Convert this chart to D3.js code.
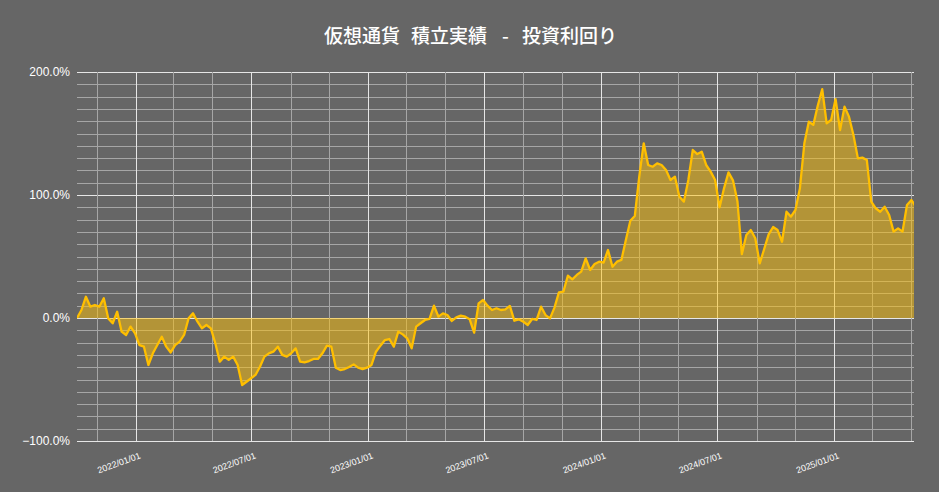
<!DOCTYPE html>
<html><head><meta charset="utf-8">
<script src="https://cdn.jsdelivr.net/npm/d3@7"></script>
<style>html,body{margin:0;padding:0;background:#666666;} svg{display:block}</style>
</head><body><svg id="c" width="939" height="492"></svg>
<script>
const titleParts = ["仮想通貨", "積立実績", "-", "投資利回り"];
const startDate = "2021-10-01";
const endDate = "2025-05-06";
const yTickValues = [-100, 0, 100, 200];
const xLabelDates = ["2022-01-01", "2022-07-01", "2023-01-01", "2023-07-01", "2024-01-01", "2024-07-01", "2025-01-01"];
// weekly return (%), first week starting at startDate
const returns = [
  0, 6.5, 17.3, 9.2, 10.6, 9.2, 16, -0.3, -4.3, 5.1,
  -11.1, -13.8, -7, -12.5, -22, -23.3, -38.2, -28.7, -22, -15.2,
  -23.3, -28, -22, -19.2, -13.8, -0.3, 3.8, -3, -8.4, -5.7,
  -8.4, -20.6, -35.5, -31.4, -34.1, -31.4, -38.2, -54.5, -51.8, -49,
  -46.3, -39.6, -31.4, -28.7, -27.4, -23.3, -30, -31.4, -28.7, -24.7,
  -35.5, -36, -35, -33.3, -33.3, -28.7, -22.5, -23.3, -40.4, -42.3,
  -41.5, -39.8, -37.7, -40.4, -41.5, -40.4, -38.2, -27.4, -22.5, -17.9,
  -17.1, -23.3, -11.1, -13.3, -16.5, -24.7, -7, -4.3, -1.6, -0.8,
  10, 1.1, 3.8, 2.4, -2.4, 0.5, 1.9, 1.1, -1.1, -12,
  11.9, 14.6, 10, 6.5, 7.9, 6.5, 7, 9.8, -2.2, -1.1,
  -3, -5.7, -0.8, -1.6, 9.2, 2.4, -0.3, 8.4, 20.9, 21.4,
  34.4, 31.4, 35, 37.7, 48.5, 39, 43.9, 45.8, 45, 55.3,
  41.7, 45.8, 47.2, 63.4, 79.1, 82.9, 114.9, 142, 124.4, 123,
  125.7, 124.4, 120.3, 112.2, 114.9, 98.6, 94.6, 112.2, 136.6, 133.3,
  135.2, 124.4, 119, 112.2, 90, 105.4, 118.4, 111.9, 95, 52,
  67.5, 71.5, 64.8, 44.4, 56.1, 68, 74, 71.5, 62, 86.4,
  82.4, 87.8, 105.4, 142, 159.6, 157, 172.6, 186, 158.3, 161,
  178, 152.8, 171.8, 163.7, 148.8, 129.8, 130.4, 128.5, 94.6, 89.2,
  86.4, 90.5, 83.7, 70.2, 72.9, 70.2, 91.9, 95.9, 90.5
];

const W = 939, H = 492;
const m = {left: 77, right: 25, top: 72, bottom: 51};
const svg = d3.select("#c");
const parse = d3.timeParse("%Y-%m-%d");
const t0 = parse(startDate), t1 = parse(endDate);
const data = returns.map((v, i) => ({date: d3.timeDay.offset(t0, 7 * i), value: v}));

const x = d3.scaleTime().domain([t0, t1]).range([m.left, W - m.right]);
const y = d3.scaleLinear().domain([-100, 200]).range([H - m.bottom, m.top]);

svg.append("rect").attr("width", W).attr("height", H).attr("fill", "#666666");

// grid
const g = svg.append("g");
const minorY = d3.range(-100, 201, 10);
g.selectAll("line.h").data(minorY).join("line")
  .attr("x1", m.left).attr("x2", W - m.right)
  .attr("y1", d => Math.round(y(d)) + 0.5).attr("y2", d => Math.round(y(d)) + 0.5)
  .attr("stroke", d => d % 100 === 0 ? "#e6e6e6" : "#a6a6a6").attr("stroke-width", 1);
const monthLines = d3.timeMonth.every(2).range(t0, t1);
g.selectAll("line.v").data(monthLines).join("line")
  .attr("y1", m.top).attr("y2", H - m.bottom)
  .attr("x1", d => Math.round(x(d)) + 0.5).attr("x2", d => Math.round(x(d)) + 0.5)
  .attr("stroke", d => (d.getMonth() % 6 === 0) ? "#e6e6e6" : "#a6a6a6").attr("stroke-width", 1);

// clip
svg.append("clipPath").attr("id", "clip").append("rect")
  .attr("x", m.left).attr("y", m.top - 5).attr("width", W - m.left - m.right).attr("height", H - m.top - m.bottom + 10);

const area = d3.area().x(d => x(d.date)).y0(y(0)).y1(d => y(d.value));
const line = d3.line().x(d => x(d.date)).y(d => y(d.value));
const pg = svg.append("g").attr("clip-path", "url(#clip)");
pg.append("path").datum(data).attr("d", area).attr("fill", "rgba(255,193,7,0.5)");
pg.append("path").datum(data).attr("d", line).attr("fill", "none")
  .attr("stroke", "#ffbf00").attr("stroke-width", 2.3).attr("stroke-linejoin", "round");

// y axis labels
const fmt = d3.format(".1f");
const yAxis = d3.axisLeft(y).tickValues(yTickValues).tickSize(0).tickPadding(7).tickFormat(d => fmt(d) + "%");
svg.append("g").attr("transform", `translate(${m.left},0)`).call(yAxis)
  .call(s => s.select(".domain").remove())
  .selectAll("text").attr("fill", "#ffffff").style("font-family", "'Liberation Sans', Arial, sans-serif").style("font-size", "12px");

// x axis labels
const xf = d3.timeFormat("%Y/%m/%d");
const xAxis = d3.axisBottom(x).tickValues(xLabelDates.map(parse)).tickSize(0).tickFormat(xf);
const xg = svg.append("g").attr("transform", `translate(0,${H - m.bottom})`).call(xAxis);
xg.select(".domain").remove();
xg.selectAll("text").attr("fill", "#ffffff")
  .style("font-family", "'Liberation Sans', Arial, sans-serif").style("font-size", "9px")
  .attr("text-anchor", "end").attr("dy", null).attr("y", 0)
  .attr("transform", "translate(5,17) rotate(-20)");

// title
const titleX = [324, 411, 502, 522];
svg.append("text").attr("y", 43)
  .attr("fill", "#ffffff").style("font-family", "'Noto Sans CJK JP', sans-serif")
  .style("font-size", "19px").style("font-weight", "500")
  .selectAll("tspan").data(titleParts).join("tspan")
  .attr("x", (d, i) => titleX[i]).text(d => d);
</script></body></html>
